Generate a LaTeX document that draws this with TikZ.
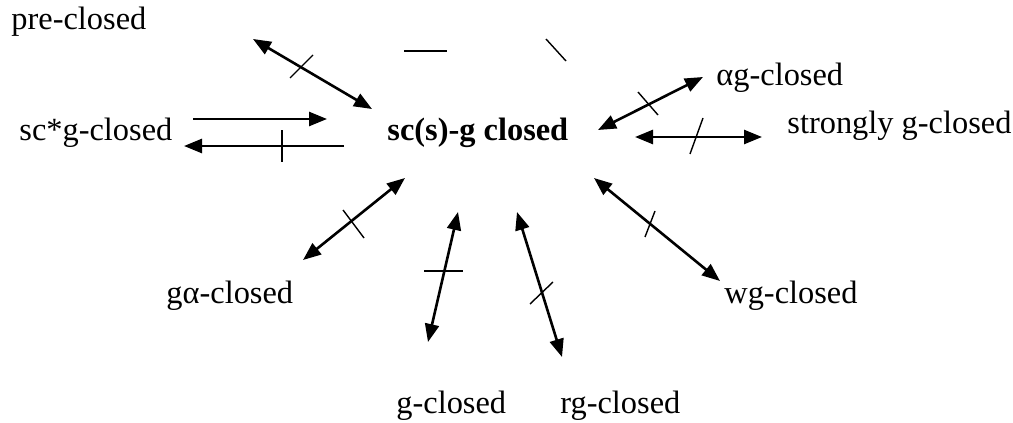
\documentclass[tikz,border=0pt]{standalone}
\usepackage{fontspec}
\setmainfont{Liberation Serif}
\usetikzlibrary{arrows.meta}
\tikzset{
  lbl/.style={anchor=base west, inner sep=0pt, font=\fontsize{16.2}{19}\selectfont},
  link/.style={line width=1.3pt,
    {Triangle[length=9pt,width=7pt]}-{Triangle[length=9pt,width=7pt]}},
  oneway/.style={line width=1.3pt, -{Triangle[length=9pt,width=7pt]}},
  tick/.style={line width=0.7pt},
}
\begin{document}
\begin{tikzpicture}[x=0.5pt, y=-0.5pt]
\useasboundingbox (0,0) rectangle (1013,423);

% labels
\node[lbl] (pre)  at (11,29)   {pre-closed};
\node[lbl] (scg)  at (19,140)  {sc*g-closed};
\node[lbl, font=\fontsize{16.2}{19}\selectfont\bfseries] (ctr) at (387,140) {sc(s)-g closed};
\node[lbl] (ag)   at (716,85)  {αg-closed};
\node[lbl] (sg)   at (787,133) {strongly g-closed};
\node[lbl] (ga)   at (166,303) {gα-closed};
\node[lbl] (wg)   at (724,303) {wg-closed};
\node[lbl] (g)    at (396,413) {g-closed};
\node[lbl] (rg)   at (560,413) {rg-closed};

% arrow end points
\coordinate (preA) at (253,39);  \coordinate (preB) at (372,109);
\coordinate (toA)  at (193,119); \coordinate (toB)  at (327,119);
\coordinate (frA)  at (344,146); \coordinate (frB)  at (184,146);
\coordinate (agA)  at (598,130); \coordinate (agB)  at (703,77);
\coordinate (sgA)  at (635,137); \coordinate (sgB)  at (762,137);
\coordinate (gaA)  at (405,178); \coordinate (gaB)  at (303,260);
\coordinate (gA)   at (458,212); \coordinate (gB)   at (428,342);
\coordinate (rgA)  at (517,212); \coordinate (rgB)  at (562,357);
\coordinate (wgA)  at (594,178); \coordinate (wgB)  at (720,281);

% connectors
\draw[link]   (preA) -- (preB);
\draw[oneway] (toA) -- (toB);
\draw[oneway] (frA) -- (frB);
\draw[link]   (agA) -- (agB);
\draw[link]   (sgA) -- (sgB);
\draw[link]   (gaA) -- (gaB);
\draw[link]   (gA) -- (gB);
\draw[link]   (rgA) -- (rgB);
\draw[link]   (wgA) -- (wgB);

% negation strokes
\draw[tick] (290,78) -- (313,55);
\draw[tick] (282,130) -- (282,162);
\draw[tick] (638,92) -- (658,115);
\draw[tick] (690,154) -- (703,118);
\draw[tick] (343,210) -- (364,238);
\draw[tick] (424,271) -- (463,271);
\draw[tick] (530,304) -- (553,282);
\draw[tick] (645,237) -- (655,211);

% loose strokes
\draw[tick] (404,51) -- (447,51);
\draw[tick] (546,39) -- (566,61);
\end{tikzpicture}
\end{document}
